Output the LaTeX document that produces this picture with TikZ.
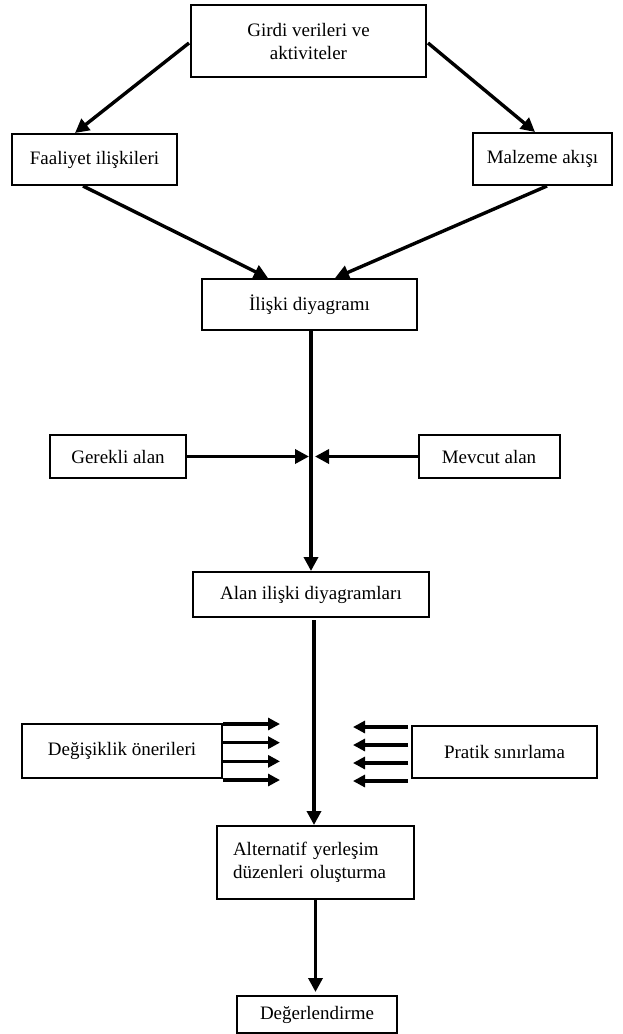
\documentclass[tikz,border=0pt]{standalone}
\usepackage{fontspec}
\setmainfont{Liberation Serif}
\usetikzlibrary{arrows.meta,calc}
\tikzset{
  box/.style={draw, line width=2pt, inner sep=0pt, align=center,
    font=\fontsize{19}{23}\selectfont},
  arr/.style={line width=3.4pt, -{Triangle[length=14pt,width=14pt]}},
  smallarr/.style={line width=3.2pt, -{Triangle[length=12pt,width=12pt]}},
}
\begin{document}
\begin{tikzpicture}[x=1pt,y=-1pt]
\useasboundingbox (0,0) rectangle (622,1034);

% boxes
\node[box, minimum width=235pt, minimum height=72pt] (girdi) at (308.5,41) {Girdi verileri ve\\aktiviteler};
\node[box, minimum width=165pt, minimum height=51pt] (faal) at (94.5,159.5) {Faaliyet ilişkileri};
\node[box, minimum width=139pt, minimum height=52pt] (malz) at (542.5,159) {Malzeme akışı};
\node[box, minimum width=215pt, minimum height=51pt] (ilis) at (309.5,304.5) {İlişki diyagramı};
\node[box, minimum width=136pt, minimum height=43pt] (gerek) at (118,456.5) {Gerekli alan};
\node[box, minimum width=141pt, minimum height=43pt] (mevcut) at (489,456.5) {Mevcut alan};
\node[box, minimum width=236pt, minimum height=45pt] (alan) at (311,594.5) {Alan ilişki diyagramları};
\node[box, minimum width=200pt, minimum height=54pt] (degis) at (122,751) {Değişiklik önerileri};
\node[box, minimum width=185pt, minimum height=52pt] (pratik) at (504.5,752) {Pratik sınırlama};
\node[box, minimum height=73pt, text width=165pt, inner xsep=16pt, align=left] (alter) at (315.5,862.5) {Alternatif yerleşim\\düzenleri oluşturma};
\node[box, minimum width=160pt, minimum height=37pt] (deger) at (317,1014.5) {Değerlendirme};

% top fan-out and fan-in
\draw[arr] ($(girdi.west)+(-1,2)$) -- ($(faal.north)+(-19.5,0)$);
\draw[arr] ($(girdi.east)+(1,2)$) -- ($(malz.north)+(-7.5,0)$);
\draw[arr] ($(faal.south)+(-11.5,0)$) -- ($(ilis.north)+(-41.5,0)$);
\draw[arr] ($(malz.south)+(4.5,0)$) -- ($(ilis.north)+(25.5,0)$);

% space inputs meeting the main line
\coordinate (meet) at ($(ilis.south)+(1.5,0)$);
\draw[arr] (meet |- ilis.south) -- (meet |- alan.north);
\draw[arr] (gerek.east) -- ($(meet |- gerek.east)+(-2,0)$);
\draw[arr] (mevcut.west) -- ($(meet |- mevcut.west)+(4,0)$);

% main line to the alternatives
\draw[arr] ($(alter.north |- alan.south)+(-1.5,2)$) -- ($(alter.north)+(-1.5,0)$);

% side inputs
\coordinate (tipL) at (280,0);
\coordinate (tipR) at (353,0);
\foreach \k in {0,1,2,3}{
  \coordinate (l\k) at ($(degis.north east)!\k/3!(degis.south east)+(0,1)$);
  \draw[smallarr] (l\k) -- (l\k -| tipL);
  \coordinate (r\k) at ($(pratik.north west)!\k/3!(pratik.south west)+(-3,2)$);
  \draw[smallarr] (r\k) -- (r\k -| tipR);
}

% evaluation
\draw[arr, shorten >=3pt] (alter.south) -- (alter.south |- deger.north);
\end{tikzpicture}
\end{document}
